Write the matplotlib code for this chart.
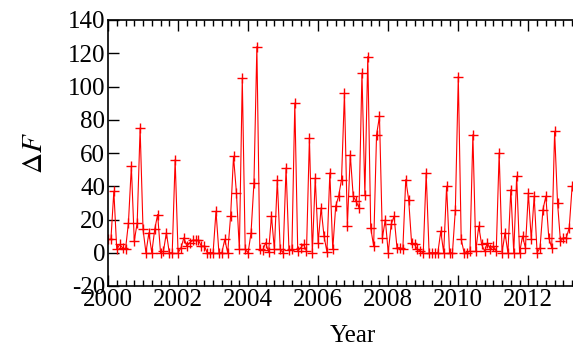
import numpy as np
import matplotlib
matplotlib.use('Agg')
import matplotlib.pyplot as plt
from matplotlib.ticker import MultipleLocator, FixedLocator

plt.rcParams['font.family'] = ['Liberation Serif', 'DejaVu Serif']
plt.rcParams['mathtext.fontset'] = 'stix'
plt.rcParams['axes.unicode_minus'] = False

# monthly Delta F values, Jan 2000 onwards
dF = [8, 8, 37, 2, 5, 3, 2, 18, 52, 7, 18, 75,
      14, 0, 12, 0, 14, 23, 0, 1, 12, 0, 0, 56,
      0, 3, 9, 4, 6, 7.5, 7.5, 7.5, 4, 4, 0, 0,
      0, 25, 0, 0, 8, 0, 22, 58, 36, 2, 105, 2,
      0, 12, 42, 124, 2, 1.5, 6, 0.5, 22, 2, 44, 2,
      0, 51, 1.5, 2, 90, 1, 3, 5, 1, 69, 0, 45,
      6, 27, 10, 0.5, 48, 2, 28, 34, 44, 96, 16, 59,
      34, 31, 27, 108, 35, 118, 15, 4, 71, 82, 9, 20,
      0, 17, 22, 3, 3, 2, 44, 32, 6, 5, 2, 1,
      0, 48, 0, 0, 0, 0, 13, 0, 40, 0, 0, 26,
      106, 8, 0, 0, 1, 71, 1, 16, 5, 1, 6, 2,
      4, 1, 60, 0, 12, 0, 38, 0, 46, 0, 10, 3,
      36, 8, 34, 0, 3, 26, 34, 9, 3, 73, 30, 7,
      9, 9, 15, 40]
year = 2000 + np.arange(len(dF)) / 12.0
year_ticks = [2000, 2002, 2004, 2006, 2008, 2010, 2012]

fig = plt.figure(figsize=(5.73, 3.47), dpi=100)
ax = fig.add_axes([108/573, 61/347, 490.4/573, 266/347])

ax.plot(year, dF, color='red', lw=0.8, marker='+', ms=7, mew=1.0)

ax.set_xlim(2000, 2014)
ax.set_ylim(-20, 140)
ax.xaxis.set_major_locator(FixedLocator(year_ticks))
ax.xaxis.set_minor_locator(MultipleLocator(0.25))
ax.yaxis.set_major_locator(MultipleLocator(20))
ax.tick_params(axis='both', which='major', direction='in', length=8, width=1,
               top=True, right=True, labelsize=18, pad=2)
ax.tick_params(axis='x', which='minor', direction='in', length=4, width=1, top=True)
for s in ax.spines.values():
    s.set_linewidth(1.2)

ax.set_xlabel('Year', fontsize=18, labelpad=10)
ax.set_ylabel(r'$\Delta F$', fontsize=21, labelpad=14)

fig.savefig('out.png', dpi=100)
